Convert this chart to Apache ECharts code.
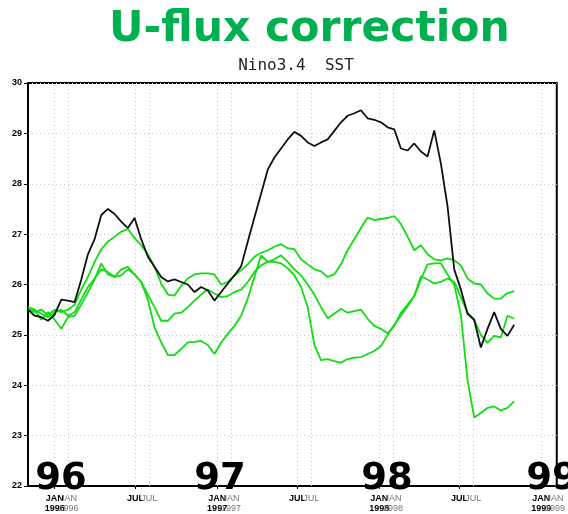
<!DOCTYPE html>
<html>
<head>
<meta charset="utf-8">
<script src="https://cdn.jsdelivr.net/npm/echarts@6/dist/echarts.min.js"></script>
<style>
  html, body { margin: 0; padding: 0; background: #fff; }
  #chart { width: 568px; height: 514px; }
</style>
</head>
<body>
<div id="chart"></div>
<script>
// Sample days, counted from 1 Jan 1996, every 15 days from Nov 1995 to Oct 1998
const startDay = -60;
const stepDays = 15;

// Observed Nino3.4 SST (degC)
const observed = [
  25.50, 25.38, 25.35, 25.28, 25.40, 25.70, 25.68, 25.65, 26.10, 26.60,
  26.90, 27.38, 27.50, 27.40, 27.25, 27.12, 27.32, 26.90, 26.55, 26.35,
  26.15, 26.06, 26.10, 26.05, 26.00, 25.85, 25.95, 25.88, 25.68, 25.85,
  26.02, 26.18, 26.36, 26.85, 27.33, 27.80, 28.28, 28.52, 28.70, 28.88,
  29.03, 28.95, 28.82, 28.75, 28.82, 28.88, 29.05, 29.22, 29.35, 29.40,
  29.46, 29.30, 29.27, 29.22, 29.12, 29.08, 28.70, 28.66, 28.80, 28.64,
  28.54, 29.06, 28.40, 27.55, 26.30, 25.90, 25.42, 25.30, 24.75, 25.12,
  25.45, 25.12, 24.98, 25.20
];

// U-flux corrected model runs (degC)
const runA = [
  25.50, 25.45, 25.50, 25.40, 25.50, 25.45, 25.50, 25.60, 25.90, 26.15,
  26.45, 26.70, 26.85, 26.95, 27.05, 27.10, 26.92, 26.78, 26.60, 26.35,
  26.02, 25.80, 25.78, 25.97, 26.12, 26.20, 26.22, 26.22, 26.20, 26.00,
  26.05, 26.18, 26.28, 26.40, 26.55, 26.63, 26.68, 26.75, 26.80, 26.72,
  26.70, 26.50, 26.40, 26.30, 26.26, 26.15, 26.20, 26.40, 26.68, 26.90,
  27.12, 27.33, 27.28, 27.30, 27.32, 27.36, 27.20, 26.95, 26.68, 26.78,
  26.60, 26.50, 26.48, 26.52, 26.48, 26.38, 26.12, 26.02, 26.00, 25.82,
  25.72, 25.72, 25.83, 25.87
];

const runB = [
  25.48, 25.50, 25.42, 25.35, 25.45, 25.50, 25.38, 25.45, 25.70, 25.95,
  26.12, 26.30, 26.25, 26.15, 26.18, 26.30, 26.20, 26.05, 25.80, 25.55,
  25.28, 25.28, 25.42, 25.44, 25.55, 25.68, 25.80, 25.90, 25.82, 25.75,
  25.77, 25.85, 25.90, 26.05, 26.25, 26.38, 26.45, 26.50, 26.58, 26.45,
  26.30, 26.18, 26.00, 25.80, 25.55, 25.33, 25.42, 25.52, 25.44, 25.47,
  25.50, 25.32, 25.18, 25.12, 25.03, 25.18, 25.44, 25.60, 25.77, 26.16,
  26.10, 26.02, 26.05, 26.12, 26.05, 25.75, 25.44, 25.30, 25.00, 24.84,
  24.98, 24.95, 25.38, 25.32
];

const runC = [
  25.55, 25.50, 25.30, 25.45, 25.30, 25.12, 25.35, 25.38, 25.60, 25.85,
  26.10, 26.42, 26.20, 26.15, 26.30, 26.35, 26.20, 26.05, 25.70, 25.15,
  24.85, 24.60, 24.60, 24.72, 24.85, 24.86, 24.88, 24.80, 24.62, 24.85,
  25.02, 25.18, 25.38, 25.72, 26.15, 26.58, 26.45, 26.45, 26.42, 26.32,
  26.18, 25.95, 25.55, 24.80, 24.50, 24.52, 24.48, 24.45, 24.52, 24.55,
  24.56, 24.62, 24.68, 24.78, 25.00, 25.20, 25.38, 25.57, 25.77, 26.10,
  26.40, 26.42, 26.42, 26.20, 26.00, 25.40, 24.10, 23.36, 23.45, 23.55,
  23.58, 23.50, 23.55, 23.68
];

// Time axis ticks (days from 1 Jan 1996)
const tickDays = [0, 182, 366, 547, 731, 912, 1096];
const tickLabels = ['JAN\n1996', 'JUL', 'JAN\n1997', 'JUL', 'JAN\n1998', 'JUL', 'JAN\n1999'];
// Second, lagged time axis drawn in grey
const lagDays = 31;

// Big year marks along the bottom
const yearMarks = ['96', '97', '98', '99'];
const yearMarkX = [61, 220, 387, 552];

const titleText = 'U-flux correction';
const subtitleText = 'Nino3.4  SST';

const X_MIN = -60, X_MAX = 1131;
const toPairs = vals => vals.map((v, i) => [startDay + i * stepDays, v]);

const GREEN = '#12dc12';
const gridLineStyle = { color: '#c4c4c4', type: [1, 3], width: 1 };

const lagTicks = tickDays.map(d => d + lagDays).filter(d => d <= X_MAX);
const labelMap = {};
tickDays.forEach((d, i) => { labelMap[d] = tickLabels[i]; });
const lagMap = {};
tickDays.forEach((d, i) => { lagMap[d + lagDays] = tickLabels[i]; });

// Vertical dotted grid lines at both sets of month ticks
const vGrid = tickDays.concat(lagTicks).map(d => ({ xAxis: d }));

const chart = echarts.init(document.getElementById('chart'), null, { renderer: 'canvas' });

const option = {
  backgroundColor: '#fff',
  animation: false,
  grid: {
    left: 28, right: 4, top: 83, bottom: 21,
    show: true, borderColor: '#000', borderWidth: 2, backgroundColor: 'transparent'
  },
  xAxis: [
    {
      type: 'value', min: X_MIN, max: X_MAX,
      axisLine: { show: true, onZero: false, lineStyle: { color: '#000', width: 2 } },
      axisTick: { show: true, length: 3, customValues: tickDays, lineStyle: { color: '#000' } },
      axisLabel: {
        customValues: tickDays,
        formatter: v => labelMap[v] || '',
        fontFamily: 'Liberation Sans', fontSize: 9, fontWeight: 'bold',
        color: '#000', lineHeight: 10, margin: 8
      },
      splitLine: { show: false }
    },
    {
      type: 'value', min: X_MIN, max: X_MAX, position: 'bottom',
      axisLine: { show: false, onZero: false },
      axisTick: { show: false, customValues: lagTicks },
      axisLabel: {
        customValues: lagTicks,
        formatter: v => lagMap[v] || '',
        fontFamily: 'Liberation Sans', fontSize: 9,
        color: '#777', lineHeight: 10, margin: 8
      },
      splitLine: { show: false }
    }
  ],
  yAxis: {
    type: 'value', min: 22, max: 30, interval: 1,
    axisLine: { show: true, onZero: false, lineStyle: { color: '#000', width: 2 } },
    axisTick: { show: true, length: 4, lineStyle: { color: '#000' } },
    axisLabel: {
      fontFamily: 'Liberation Sans', fontSize: 9, fontWeight: 'bold',
      color: '#000', margin: 6
    },
    splitLine: { show: true, lineStyle: gridLineStyle }
  },
  series: [
    { name: 'runA', type: 'line', data: toPairs(runA), symbol: 'none',
      lineStyle: { color: GREEN, width: 1.8 }, z: 3,
      markLine: {
        silent: true, symbol: 'none', label: { show: false },
        lineStyle: gridLineStyle, data: vGrid, z: 1
      } },
    { name: 'runB', type: 'line', data: toPairs(runB), symbol: 'none',
      lineStyle: { color: GREEN, width: 1.8 }, z: 3 },
    { name: 'runC', type: 'line', data: toPairs(runC), symbol: 'none',
      lineStyle: { color: GREEN, width: 1.8 }, z: 3 },
    { name: 'observed', type: 'line', data: toPairs(observed), symbol: 'none',
      lineStyle: { color: '#111', width: 1.8 }, z: 4 }
  ],
  graphic: [
    {
      type: 'text', left: 109, top: 8, z: 10,
      style: {
        text: titleText, fill: '#00b050',
        font: 'bold 42.5px "DejaVu Sans"'
      }
    },
    {
      type: 'text', x: 296, y: 74, z: 10,
      style: {
        text: subtitleText, fill: '#222', align: 'center', verticalAlign: 'bottom',
        font: '16px "DejaVu Sans Mono"'
      }
    }
  ].concat(yearMarks.map((t, i) => ({
    type: 'text', x: yearMarkX[i], y: 498, z: 20,
    style: {
      text: t, fill: '#000', align: 'center', verticalAlign: 'bottom',
      font: 'bold 37px "DejaVu Sans"'
    }
  })))
};

chart.setOption(option);
</script>
</body>
</html>
